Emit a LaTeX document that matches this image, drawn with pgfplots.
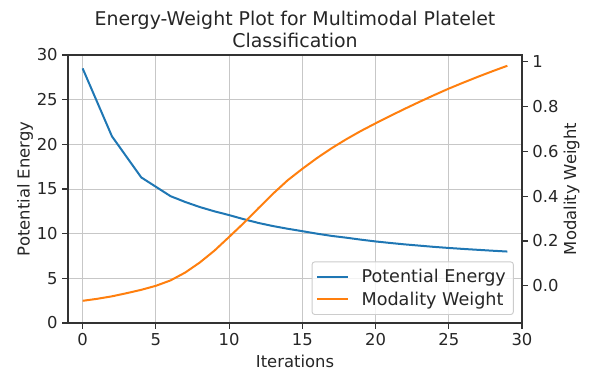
\documentclass[border=0pt]{standalone}
\usepackage{fontspec}
\setmainfont{DejaVu Sans}
\usepackage{pgfplots}
\usepackage{pgfplotstable}
\pgfplotsset{compat=1.18}
\definecolor{mplblue}{HTML}{1F77B4}
\definecolor{mplorange}{HTML}{FF7F0E}
\pgfplotstableread{
x e
0 28.5
1 24.7
2 20.9
3 18.6
4 16.3
5 15.25
6 14.2
7 13.55
8 12.98
9 12.5
10 12.08
11 11.62
12 11.2
13 10.85
14 10.55
15 10.28
16 10.0
17 9.75
18 9.55
19 9.33
20 9.13
21 8.96
22 8.8
23 8.66
24 8.52
25 8.4
26 8.29
27 8.19
28 8.09
29 8.0
}\energy
\pgfplotstableread{
x w
0 -0.067
1 -0.058
2 -0.047
3 -0.033
4 -0.018
5 0.0
6 0.024
7 0.059
8 0.104
9 0.157
10 0.218
11 0.280
12 0.346
13 0.411
14 0.471
15 0.522
16 0.570
17 0.614
18 0.654
19 0.691
20 0.725
21 0.758
22 0.790
23 0.821
24 0.851
25 0.880
26 0.907
27 0.933
28 0.958
29 0.982
}\weight
\pgfplotsset{
  mpl/.style={
    scale only axis, width=340.5pt, height=201pt,
    at={(0,0)}, anchor=south west,
    xmin=-1, xmax=30,
    axis line style={black!80, line width=0.8pt},
    tick style={black!80, line width=0.8pt},
    major tick length=4.25pt,
    tick label style={font=\fontsize{12.3}{14}\selectfont, text=black!85},
    label style={font=\fontsize{12.3}{14}\selectfont, text=black!85},
    /pgf/number format/assume math mode=true,
  }
}
\begin{document}
\begin{tikzpicture}
\path[use as bounding box] (-51pt,-36.75pt) rectangle (390.75pt,242.25pt);
\begin{axis}[mpl,
  ymin=0, ymax=30,
  xtick={0,5,10,15,20,25,30},
  ytick={0,5,10,15,20,25,30},
  xtick pos=bottom, ytick pos=left,
  tick align=outside,
  grid=major,
  grid style={black!22, line width=0.7pt},
  xlabel={Iterations},
  ylabel={Potential Energy},
  xlabel style={at={(axis description cs:0.5,-0.1437)}, anchor=center},
  ylabel style={at={(axis description cs:-0.0947,0.5)}, anchor=center},
  title={Energy-Weight Plot for Multimodal Platelet\\Classification},
  title style={at={(axis description cs:0.5,1)}, anchor=south, yshift=-0.75pt, align=center, inner sep=0pt, font=\fontsize{14.2}{16.3}\selectfont, text=black!85},
]
\addplot[mplblue, line width=1.5pt] table[x=x, y=e]{\energy};
\end{axis}
\begin{axis}[mpl,
  ymin=-0.166, ymax=1.03,
  axis y line*=right, axis x line=none,
  tick align=outside,
  ytick={0,0.2,0.4,0.6,0.8,1},
  yticklabels={0.0,0.2,0.4,0.6,0.8,1},
  ylabel={Modality Weight},
  ylabel style={at={(axis description cs:1.109,0.5)}, anchor=center},
  legend cell align=left,
  legend image code/.code={\draw[#1] (0pt,0pt) -- (23pt,0pt);},
  legend style={at={(0.982,0.03)}, anchor=south east,
    draw=black!20, fill=white, fill opacity=0.8, text opacity=1,
    rounded corners=2pt, line width=0.7pt,
    font=\fontsize{13.2}{15}\selectfont, text=black!85,
    inner xsep=3pt, inner ysep=3pt,
    nodes={inner sep=2.6pt},
    /tikz/every odd column/.style={column sep=7pt}},
]
\addlegendimage{mplblue, line width=1.5pt}
\addlegendentry{Potential Energy}
\addplot[mplorange, line width=1.5pt] table[x=x, y=w]{\weight};
\addlegendentry{Modality Weight}
\end{axis}
\end{tikzpicture}
\end{document}
